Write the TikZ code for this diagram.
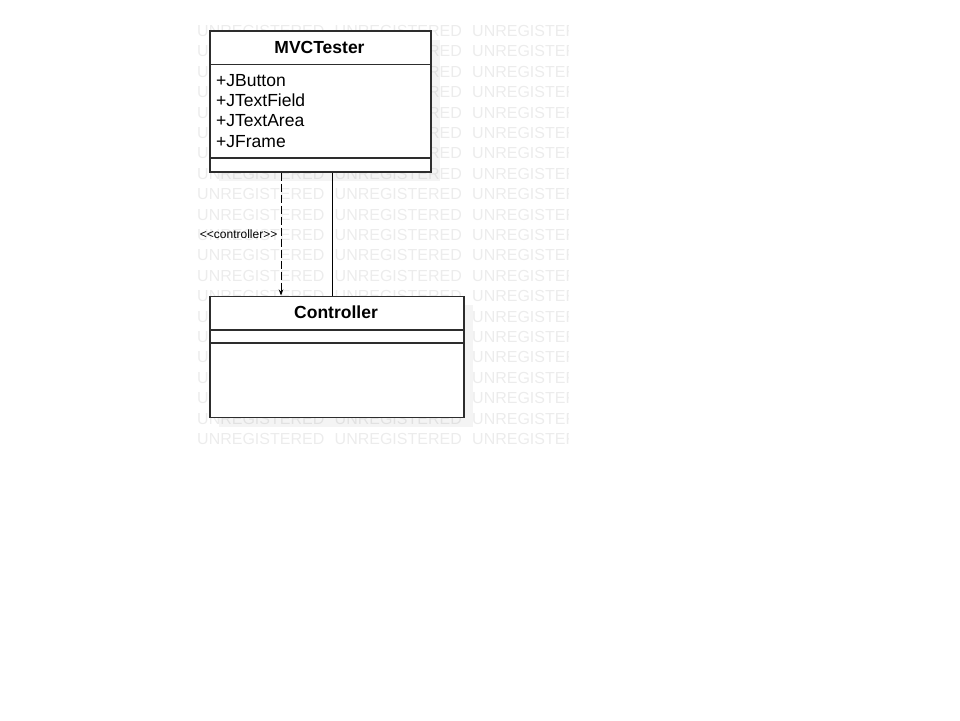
\documentclass[tikz,border=0pt]{standalone}
\usepackage{fontspec}
\setmainfont{Liberation Sans}
\usetikzlibrary{arrows.meta}
\definecolor{wmgray}{RGB}{236,236,236}
\definecolor{boxline}{RGB}{45,45,45}

\begin{document}
\begin{tikzpicture}[x=1pt,y=-1pt,
  classbox/.style={draw=boxline,line width=1.5pt,fill=white,inner sep=0pt,anchor=north west},
  compline/.style={draw=boxline,line width=1.5pt},
  boxshadow/.style={fill=black,opacity=0.045,draw=none},
  watermark/.style={text=wmgray,font=\fontsize{16}{16}\selectfont,anchor=west,inner sep=0pt},
  attr/.style={anchor=base west,inner sep=0pt,font=\fontsize{17.5}{20}\selectfont},
  classtitle/.style={anchor=base,inner sep=0pt,font=\bfseries\fontsize{17.5}{20}\selectfont},
  link/.style={line width=0.9pt}]
  \useasboundingbox (0,0) rectangle (960,720);
  % watermark tiles
  \begin{scope}
    \clip (196,21) rectangle (568,456);
    \foreach \r in {0,...,20}
      \foreach \c in {0,1,2}
        \node[watermark] at (197+137.5*\c,31+20.4*\r) {UNREGISTERED};
  \end{scope}
  % shadows
  \fill[boxshadow] (219,40) rectangle (440,181);
  \fill[boxshadow] (219,305) rectangle (473,427);
  % class MVCTester
  \node[classbox,minimum width=221pt,minimum height=141pt] (tester) at (209,30) {};
  \node[classtitle] (testername) at (319.5,53.5) {MVCTester};
  \draw[compline] (tester.west |- 0,64.5) -- (tester.east |- 0,64.5);
  \draw[compline] (tester.west |- 0,158) -- (tester.east |- 0,158);
  \foreach \a [count=\i from 0] in {JButton,JTextField,JTextArea,JFrame}
    \node[attr] (attr\i) at (216,86+20.4*\i) {+\a};
  % class Controller
  \node[classbox,minimum width=254pt,minimum height=121pt] (ctrl) at (209,295.5) {};
  \node[classtitle] (ctrlname) at (336,318.5) {Controller};
  \draw[compline] (ctrl.west |- 0,330) -- (ctrl.east |- 0,330);
  \draw[compline] (ctrl.west |- 0,343) -- (ctrl.east |- 0,343);
  % connectors
  \coordinate (dashx) at (281,0);
  \coordinate (solidx) at (332,0);
  \draw[link,dash pattern=on 8pt off 3pt,-{Stealth[length=6pt,width=4.5pt]}]
    (tester.south -| dashx) -- (ctrl.north -| dashx);
  \draw[link] (tester.south -| solidx) -- (ctrl.north -| solidx);
  \node[anchor=base east,inner sep=0pt,font=\fontsize{12}{14}\selectfont] (stereo) at (277.5,238.5) {{<}{<}controller{>}{>}};
\end{tikzpicture}
\end{document}
